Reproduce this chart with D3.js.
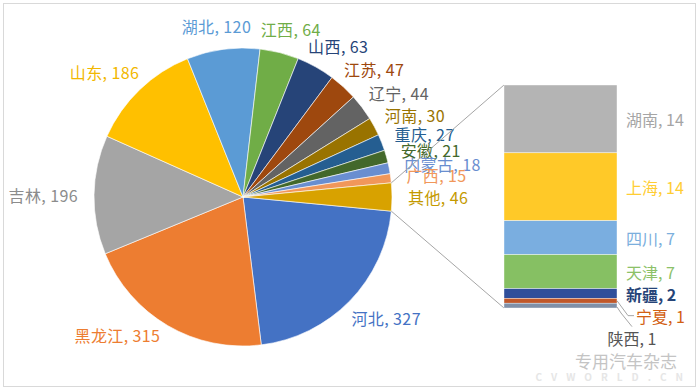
<!DOCTYPE html>
<html>
<head>
<meta charset="utf-8">
<script src="https://cdn.jsdelivr.net/npm/d3@7"></script>
<style>
  html, body { margin: 0; padding: 0; background: #fff; }
  svg { display: block; font-family: "Noto Sans CJK SC", "Noto Sans", sans-serif; }
</style>
</head>
<body>
<div id="chart"></div>
<script>
// main pie, clockwise, "其他" is split out into the bar
const pieNames = ['河北', '黑龙江', '吉林', '山东', '湖北', '江西', '山西', '江苏', '辽宁', '河南', '重庆', '安徽', '内蒙古', '广西', '其他'];
const pieValues = [327, 315, 196, 186, 120, 64, 63, 47, 44, 30, 27, 21, 18, 15, 46];
const pieColors = ['#4472C4', '#ED7D31', '#A5A5A5', '#FFC000', '#5B9BD5', '#70AD47', '#264478', '#9E480E',
    '#636363', '#997300', '#255E91', '#43682B', '#698ED0', '#F1975A', '#D8A200'];
const pieLabelColors = ['#4472C4', '#ED7D31', '#8C8C8C', '#F2B700', '#5B9BD5', '#70AD47', '#264478', '#9E480E',
    '#636363', '#997300', '#255E91', '#43682B', '#698ED0', '#F1975A', '#C49A00'];

// secondary bar, top to bottom
const barNames = ['湖南', '上海', '四川', '天津', '新疆', '宁夏', '陕西'];
const barValues = [14, 14, 7, 7, 2, 1, 1];
const barColors = ['#B4B4B4', '#FFC928', '#7AAEE0', '#86C063', '#2F4E9A', '#C0582A', '#8090A8'];
const barLabelColors = ['#A5A5A5', '#FFCD33', '#7CAFDD', '#8CC168', '#264478', '#D26012', '#555555'];

const W = 700, H = 391;
const cx = 243, cy = 197, R = 149;
const fontSize = 16;

const svg = d3.select('#chart').append('svg')
    .attr('width', W)
    .attr('height', H);

svg.append('rect')
    .attr('x', 3.5).attr('y', 3.5)
    .attr('width', W - 8).attr('height', H - 8)
    .attr('fill', '#fff')
    .attr('stroke', '#d9d9d9');

const total = d3.sum(pieValues);
const otherAngle = pieValues[pieValues.length - 1] / total * 2 * Math.PI;
const start = Math.PI / 2 + otherAngle / 2;

const pie = d3.pie()
    .sort(null)
    .value(d => d.value)
    .startAngle(start)
    .endAngle(start + 2 * Math.PI);

const pieData = pie(pieNames.map((n, i) => ({ name: n, value: pieValues[i], i })));
const arc = d3.arc().innerRadius(0).outerRadius(R);

const g = svg.append('g').attr('transform', `translate(${cx}, ${cy})`);

g.selectAll('.slice')
    .data(pieData)
    .enter().append('path')
    .attr('class', 'slice')
    .attr('d', arc)
    .attr('fill', d => pieColors[d.data.i])
    .attr('stroke', '#fff')
    .attr('stroke-width', 0.6);

// pie labels: box just outside the edge along mid angle
const gap = 16;
g.selectAll('.plabel')
    .data(pieData)
    .enter().append('text')
    .attr('class', 'plabel')
    .attr('font-size', fontSize)
    .attr('letter-spacing', 0.4)
    .attr('fill', d => pieLabelColors[d.data.i])
    .attr('dominant-baseline', 'central')
    .attr('text-anchor', 'middle')
    .text(d => `${d.data.name}, ${d.data.value}`)
    .each(function(d) {
        // lower-left labels sit a bit further round, as excel places them
        let a = (d.startAngle + d.endAngle) / 2;
        if (a > Math.PI && a < 1.5 * Math.PI) a += 0.12;
        const ux = Math.sin(a), uy = -Math.cos(a);
        const w = this.getComputedTextLength();
        const x = (R + gap) * ux + ux * w / 2;
        const y = (R + gap) * uy + uy * fontSize / 2;
        d3.select(this).attr('x', x).attr('y', y);
    });

// secondary bar
const barX = 504, barW = 113, barTop = 85, barBottom = 308;
const barTotal = d3.sum(barValues);
const y = d3.scaleLinear().domain([0, barTotal]).range([barTop, barBottom]);
const cum = d3.cumsum(barValues);
const barData = barNames.map((n, i) => ({ name: n, value: barValues[i], y0: cum[i] - barValues[i], y1: cum[i], i }));

// connectors from split slice to bar
const other = pieData[pieData.length - 1];
const p1 = [cx + R * Math.sin(other.startAngle), cy - R * Math.cos(other.startAngle)];
const p2 = [cx + R * Math.sin(other.endAngle), cy - R * Math.cos(other.endAngle)];
svg.append('line')
    .attr('x1', p1[0]).attr('y1', p1[1])
    .attr('x2', barX).attr('y2', y(0))
    .attr('stroke', '#a6a6a6').attr('stroke-width', 1);
svg.append('line')
    .attr('x1', p2[0]).attr('y1', p2[1])
    .attr('x2', barX).attr('y2', y(barTotal))
    .attr('stroke', '#a6a6a6').attr('stroke-width', 1);

svg.selectAll('.seg')
    .data(barData)
    .enter().append('rect')
    .attr('class', 'seg')
    .attr('x', barX)
    .attr('y', d => y(d.y0))
    .attr('width', barW)
    .attr('height', d => y(d.y1) - y(d.y0))
    .attr('fill', d => barColors[d.i])
    .attr('stroke', '#fff')
    .attr('stroke-width', 0.4);

// watermark (under the labels)
svg.append('text')
    .attr('x', 677).attr('y', 368)
    .attr('text-anchor', 'end')
    .attr('font-size', 17)
    .attr('fill', '#c4c4c4')
    .text('专用汽车杂志');
svg.append('text')
    .attr('x', 692).attr('y', 381)
    .attr('text-anchor', 'end')
    .attr('font-size', 10)
    .attr('font-weight', 'bold')
    .attr('letter-spacing', 9)
    .attr('fill', '#e6e6e6')
    .text('CVWORLD.CN');

// bar labels, pushed down when segments are too thin
let lastY = -Infinity;
barData.forEach(d => {
    const mid = (y(d.y0) + y(d.y1)) / 2;
    const ly = Math.max(mid, lastY + 22);
    lastY = ly;
    const shift = ly - mid;
    let lx = barX + barW + 9, anchor = 'start';
    if (shift > 30) {
        lx = barX + barW + 15;
        anchor = 'middle';
        svg.append('path')
            .attr('d', `M${barX + barW},${y(d.y1) - 1}L${barX + barW + 4},${y(d.y1) + 5}L${lx},${ly - 11}`)
            .attr('fill', 'none').attr('stroke', '#a6a6a6');
    } else if (shift > 8) {
        lx = barX + barW + 19;
        svg.append('path')
            .attr('d', `M${barX + barW},${mid}L${lx - 8},${ly}L${lx - 2},${ly}`)
            .attr('fill', 'none').attr('stroke', '#a6a6a6');
    }
    svg.append('text')
        .attr('x', lx)
        .attr('y', ly)
        .attr('font-size', fontSize)
        .attr('text-anchor', anchor)
        .attr('dominant-baseline', 'central')
        .attr('fill', barLabelColors[d.i])
        .attr('font-weight', d.name === '新疆' ? 'bold' : null)
        .text(`${d.name}, ${d.value}`);
});
</script>
</body>
</html>
